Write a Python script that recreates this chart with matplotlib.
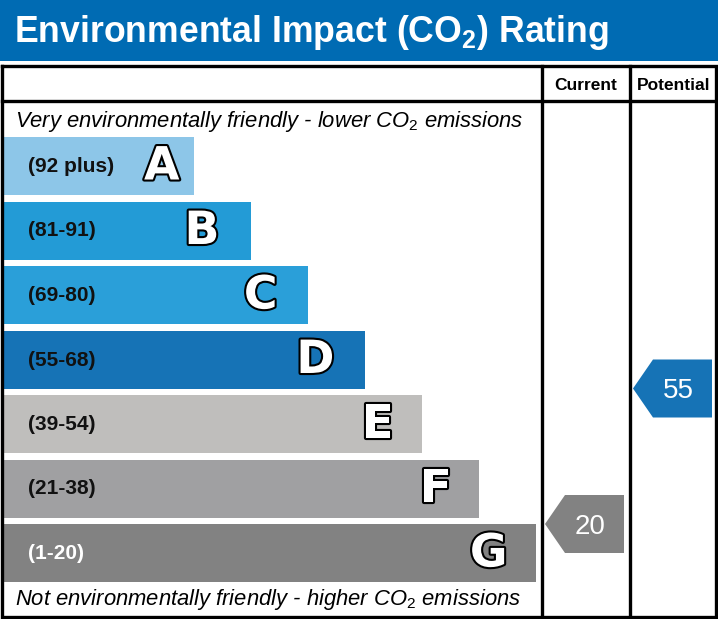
import matplotlib
matplotlib.use("Agg")
import matplotlib.pyplot as plt
from matplotlib.patches import Rectangle, Polygon
import matplotlib.patheffects as pe

plt.rcParams["mathtext.fontset"] = "custom"
plt.rcParams["mathtext.rm"] = "Liberation Sans"
plt.rcParams["mathtext.it"] = "Liberation Sans:italic"
plt.rcParams["mathtext.bf"] = "Liberation Sans:bold"

# ---- data ----
bands = ["A", "B", "C", "D", "E", "F", "G"]
ranges = ["(92 plus)", "(81-91)", "(69-80)", "(55-68)", "(39-54)", "(21-38)", "(1-20)"]
band_lower = [92, 81, 69, 55, 39, 21, 1]
band_upper = [100, 91, 80, 68, 54, 38, 20]
band_colors = ["#8dc6e8", "#239bd6", "#2a9fd9", "#1673b6", "#bfbebc", "#a0a0a2", "#828282"]
label_colors = ["#111111"] * 6 + ["#ffffff"]
current_value = 20
potential_value = 55
title = r"Environmental Impact (CO$_\mathbf{2}$) Rating"
top_note = r"Very environmentally friendly - lower CO$_\mathit{2}$ emissions"
bottom_note = r"Not environmentally friendly - higher CO$_\mathit{2}$ emissions"
col_headers = ["Current", "Potential"]

W, H = 718, 619
fig = plt.figure(figsize=(W / 100, H / 100), dpi=100)
ax = fig.add_axes([0, 0, 1, 1])
ax.set_xlim(0, W)
ax.set_ylim(H, 0)
ax.axis("off")

# title banner
ax.add_patch(Rectangle((0, 0), W, 61, facecolor="#006bb3", edgecolor="none"))
ax.text(14, 42, title, color="white", fontsize=25.7, fontweight="bold",
        family="Liberation Sans", va="baseline", ha="left")

# frame
lw = 2.4
x_left, x_right = 1.5, 716
y_top, y_bot = 66, 617
col1, col2 = 541.5, 630
header_bot = 101
ax.plot([x_left, x_right, x_right, x_left, x_left], [y_top, y_top, y_bot, y_bot, y_top],
        color="black", lw=lw, solid_joinstyle="miter")
ax.plot([x_left, x_right], [header_bot, header_bot], color="black", lw=lw)
ax.plot([col1, col1], [y_top, y_bot], color="black", lw=lw)
ax.plot([col2, col2], [y_top, y_bot], color="black", lw=lw)
ax.text((col1 + col2) / 2, 90, col_headers[0], fontsize=12.5, fontweight="bold",
        family="Liberation Sans", ha="center", va="baseline")
ax.text((col2 + x_right) / 2 + 0.5, 90, col_headers[1], fontsize=12.5, fontweight="bold",
        family="Liberation Sans", ha="center", va="baseline")

ax.text(15, 127, top_note, fontsize=15.8, style="italic", family="Liberation Sans",
        ha="left", va="baseline")
ax.text(15, 605, bottom_note, fontsize=15.8, style="italic", family="Liberation Sans",
        ha="left", va="baseline")

# bands
bar_top0 = 137
bar_step = 64.5
bar_h = 58
bar_x0 = 2.5
bar_w0 = 191
bar_dw = 57
letter_gap = [14, 31, 30, 30, 28, 27, 28]
for i, (b, r, c, lc) in enumerate(zip(bands, ranges, band_colors, label_colors)):
    yt = bar_top0 + i * bar_step
    w = bar_w0 + i * bar_dw
    ax.add_patch(Rectangle((bar_x0, yt), w, bar_h, facecolor=c, edgecolor="none"))
    ax.text(28, yt + bar_h / 2 + 6, r, fontsize=15, fontweight="bold", family="Liberation Sans",
            color=lc, ha="left", va="baseline")
    ax.text(bar_x0 + w - letter_gap[i], yt + bar_h / 2 + 1, b, fontsize=33, fontweight="bold",
            family="DejaVu Sans", color="white", ha="right", va="center",
            path_effects=[pe.withStroke(linewidth=3.0, foreground="black")])


def value_y(v):
    for i, (lo, hi) in enumerate(zip(band_lower, band_upper)):
        if lo <= v <= hi:
            yt = bar_top0 + i * bar_step
            return yt + (hi - v) / (hi - lo) * bar_h
    return None


def arrow(v, x0, x1, color):
    yc = value_y(v)
    h2 = 29
    tip = 20
    pts = [(x0, yc), (x0 + tip, yc - h2), (x1, yc - h2), (x1, yc + h2), (x0 + tip, yc + h2)]
    ax.add_patch(Polygon(pts, closed=True, facecolor=color, edgecolor="none"))
    ax.text((x0 + tip + x1) / 2 - 4, yc + 10, str(v), fontsize=20, color="white",
            family="Liberation Sans", ha="center", va="baseline")


arrow(current_value, 545, 624, band_colors[bands.index("G")])
arrow(potential_value, 633, 712, band_colors[bands.index("D")])

fig.savefig("out.png", dpi=100)
